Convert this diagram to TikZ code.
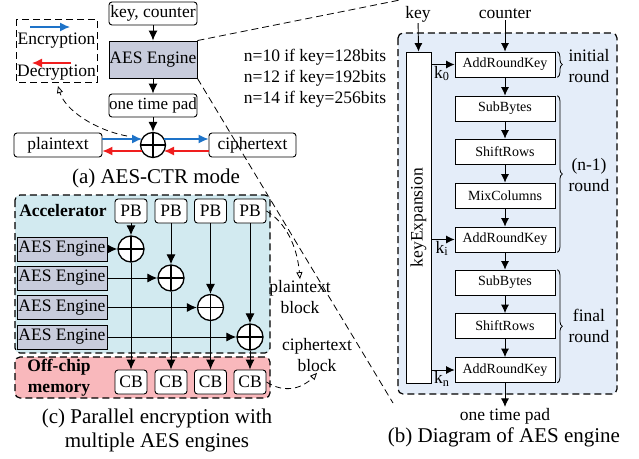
\documentclass[tikz,border=0pt]{standalone}
\usepackage{fontspec}
\setmainfont{Liberation Serif}
\usetikzlibrary{arrows.meta,calc,positioning,decorations.pathreplacing}

\definecolor{engfill}{RGB}{200,204,220}
\definecolor{accfill}{RGB}{210,234,240}
\definecolor{memfill}{RGB}{249,184,188}
\definecolor{aesfill}{RGB}{228,237,249}
\definecolor{encblue}{RGB}{30,115,200}
\definecolor{decred}{RGB}{240,30,30}

\newcommand{\fsmain}{\fontsize{17.5}{21}\selectfont}
\newcommand{\fsstep}{\fontsize{14}{16}\selectfont}
\newcommand{\fscap}{\fontsize{21}{24}\selectfont}

\tikzset{
  rbox/.style={draw, rounded corners=3pt, fill=white, inner sep=0pt, line width=0.9pt, font=\fsmain},
  engbox/.style={draw, fill=engfill, inner sep=0pt, line width=0.9pt, font=\fsmain},
  stepbox/.style={draw, fill=white, inner sep=0pt, line width=0.8pt, minimum width=100pt, minimum height=25pt, font=\fsstep},
  xor/.style={draw, circle, fill=white, line width=1.3pt, minimum size=25pt, inner sep=0pt,
    path picture={\draw[line width=1.3pt] (path picture bounding box.north) -- (path picture bounding box.south)
      (path picture bounding box.west) -- (path picture bounding box.east);}},
  dashbox/.style={dash pattern=on 7pt off 4pt, line width=1.2pt, rounded corners=5pt},
  arr/.style={-{Latex[length=10pt,width=9pt]}, line width=1pt},
  sarr/.style={-{Latex[length=8.5pt,width=8pt]}, line width=0.9pt},
  hint/.style={dash pattern=on 6pt off 4pt, line width=0.8pt, -{Triangle[open,length=7pt,width=6pt]}},
  lbl/.style={font=\fsmain, inner sep=1pt, align=center},
}

\begin{document}
\begin{tikzpicture}[x=1pt,y=-1pt]
\useasboundingbox (0,0) rectangle (639,458);

% (a) AES-CTR mode
\node[rbox, minimum width=88pt, minimum height=23pt] (kc) at (153,13.5) {key, counter};
\node[engbox, minimum width=88pt, minimum height=37pt] (aesA) at (153,59.5) {AES Engine};
\node[rbox, minimum width=88pt, minimum height=23pt, font=\fontsize{17}{20}\selectfont] (otpA) at (153,105.5) {one time pad};
\node[xor] (xorA) at (153,145) {};
\node[rbox, minimum width=88pt, minimum height=24pt] (plain) at (58,145) {plaintext};
\node[rbox, minimum width=87pt, minimum height=24pt] (cipher) at (252.5,145) {ciphertext};

\draw[arr] (kc) -- (aesA);
\draw[arr] (aesA) -- (otpA);
\draw[arr] (otpA) -- (xorA);

\draw[arr, encblue, line width=1.3pt] ($(plain.east)+(0,-6)$) -- ($(xorA.center)+(-11,-6)$);
\draw[arr, encblue, line width=1.3pt] ($(xorA.center)+(11,-6)$) -- ($(cipher.west)+(0,-6)$);
\draw[arr, decred, line width=1.3pt] ($(cipher.west)+(0,6)$) -- ($(xorA.center)+(11,6)$);
\draw[arr, decred, line width=1.3pt] ($(xorA.center)+(-11,6)$) -- ($(plain.east)+(0,6)$);

% legend
\draw[dash pattern=on 7pt off 4pt, line width=1pt] (16,19) rectangle (97,82);
\node[lbl] (enc) at (56.5,41) {Encryption};
\node[lbl] (dec) at (56.5,73) {Decryption};
\coordinate (encL) at (30,27);
\coordinate (encR) at (70,27);
\coordinate (decL) at (32,63);
\coordinate (decR) at (71,63);
\draw[arr, encblue, line width=1.3pt] (encL) -- (encR);
\draw[arr, decred, line width=1.3pt] (decR) -- (decL);

\coordinate (hintA) at (127,136);
\draw[hint] (hintA) .. controls (95,130) and (65,110) .. (58,86);

\node[font=\fscap] (capA) at (156,178) {(a) AES-CTR mode};

% zoom lines to (b)
\coordinate (zoomT) at (400,0);
\coordinate (zoomB) at (393,403);
\draw[dash pattern=on 7pt off 4pt, line width=0.8pt] (aesA.north east) -- (zoomT);
\draw[dash pattern=on 7pt off 4pt, line width=0.8pt] (aesA.south east) -- (zoomB);

\node[lbl, align=left, font=\fsmain] (nbits) at (315,78) {n=10 if key=128bits\\n=12 if key=192bits\\n=14 if key=256bits};

% (b) AES engine
\draw[dashbox, fill=aesfill] (398,33) rectangle (617,394);
\node[draw, fill=white, line width=0.8pt, rotate=90, minimum width=331pt, minimum height=25pt, inner sep=0pt, font=\fsmain] (kexp) at (418.5,217.5) {keyExpansion};

\foreach \n/\t/\y in {ark0/AddRoundKey/64.5, sb1/SubBytes/108.5, sr1/ShiftRows/151.5, mc1/MixColumns/195.5,
  ark1/AddRoundKey/239.5, sb2/SubBytes/282.5, sr2/ShiftRows/326, ark2/AddRoundKey/370}
{
  \node[stepbox] (\n) at (505,\y) {\t};
}
\foreach \a/\b in {ark0/sb1, sb1/sr1, sr1/mc1, mc1/ark1, ark1/sb2, sb2/sr2, sr2/ark2}
{
  \draw[sarr] (\a.south) -- (\b.north);
}

\node[lbl] (keyB) at (418,14) {key};
\node[lbl] (ctrB) at (505,14) {counter};
\draw[sarr] (keyB) -- (kexp.east);
\draw[sarr] (ctrB) -- (ark0);

\draw[sarr] (kexp.south |- ark0.west) -- node[below, font=\fsmain, inner sep=1pt, pos=0.45] {k\textsubscript{0}} (ark0.west);
\draw[sarr] (kexp.south |- ark1.west) -- node[below, font=\fsmain, inner sep=1pt, pos=0.45] {k\textsubscript{i}} (ark1.west);
\draw[sarr] (kexp.south |- ark2.west) -- node[below, font=\fsmain, inner sep=1pt, pos=0.45] {k\textsubscript{n}} (ark2.west);

\node[lbl] (otpB) at (505,416) {one time pad};
\draw[sarr] (ark2) -- (otpB);

\draw[decorate, decoration={brace, amplitude=5pt}, line width=0.8pt] ($(ark0.north east)+(2,0)$) -- ($(ark0.south east)+(2,0)$);
\draw[decorate, decoration={brace, amplitude=5pt}, line width=0.8pt] ($(sb1.north east)+(2,0)$) -- ($(ark1.south east)+(2,0)$);
\draw[decorate, decoration={brace, amplitude=5pt}, line width=0.8pt] ($(sb2.north east)+(2,0)$) -- ($(ark2.south east)+(2,0)$);
\node[lbl] (rinit) at (589,66) {initial\\round};
\node[lbl] (rmid) at (589,175) {(n-1)\\round};
\node[lbl] (rfinal) at (589,326) {final\\round};

\node[font=\fscap] (capB) at (504,437) {(b) Diagram of AES engine};

% (c) parallel encryption
\draw[dashbox, fill=accfill] (15,195) rectangle (270,353);
\draw[dashbox, fill=memfill] (15,357) rectangle (270,398);
\node[lbl, font=\fsmain\bfseries] (acc) at (63,211) {Accelerator};
\node[lbl, font=\fsmain\bfseries, align=center] (mem) at (59,378) {Off-chip\\memory};

\foreach \i/\x/\y in {1/131/249, 2/171/278, 3/210.5/307.5, 4/250/337}
{
  \node[rbox, minimum width=32pt, minimum height=24pt] (pb\i) at (\x,211) {PB};
  \node[rbox, minimum width=32pt, minimum height=24pt] (cb\i) at (\x,382) {CB};
  \node[engbox, minimum width=90pt, minimum height=24pt] (eng\i) at (62,\y) {AES Engine};
  \node[xor, minimum size=26pt] (xor\i) at (\x,\y) {};
}
\foreach \i in {1,...,4}
{
  \draw[arr] (pb\i) -- (xor\i);
  \draw[arr] (xor\i) -- (cb\i);
  \draw[arr] (eng\i) -- (xor\i);
}

\node[lbl] (pblk) at (300,297) {plaintext\\block};
\node[lbl] (cblk) at (317,355) {ciphertext\\block};
\draw[hint] (pb4.east) .. controls (285,222) and (297,245) .. (pblk.north);
\draw[hint] (cb4.east) .. controls (285,394) and (303,388) .. (cblk.south);

\node[font=\fscap, align=center] (capC) at (157,430) {(c) Parallel encryption with\\multiple AES engines};

\end{tikzpicture}
\end{document}
